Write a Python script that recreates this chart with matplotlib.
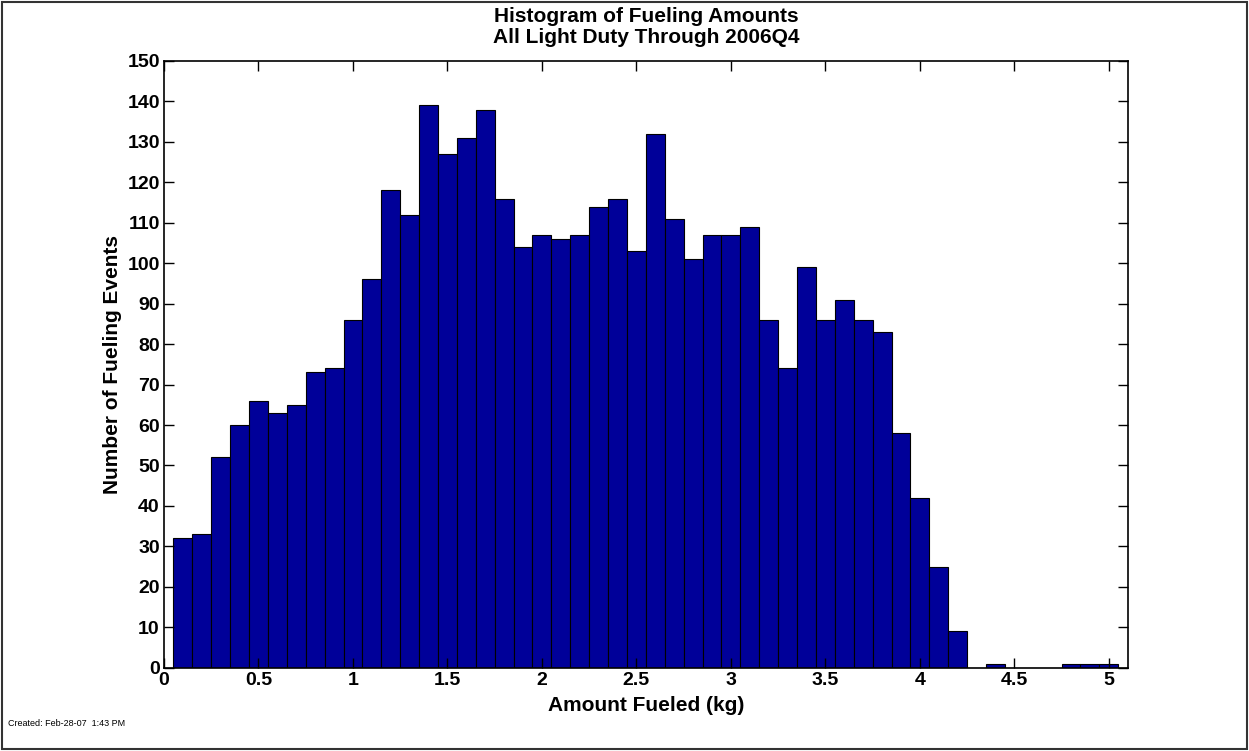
import matplotlib
matplotlib.use("Agg")
import matplotlib.pyplot as plt
from matplotlib.patches import Rectangle
import numpy as np

centros = np.round(np.arange(1, 51) * 0.1, 1)
conteos = [32, 33, 52, 60, 66, 63, 65, 73, 74, 86,
           96, 118, 112, 139, 127, 131, 138, 116, 104, 107,
           106, 107, 114, 116, 103, 132, 111, 101, 107, 107,
           109, 86, 74, 99, 86, 91, 86, 83, 58, 42,
           25, 9, 0, 1, 0, 0, 0, 1, 1, 1]

xticks = [0, 0.5, 1, 1.5, 2, 2.5, 3, 3.5, 4, 4.5, 5]
xtick_labels = ["0", "0.5", "1", "1.5", "2", "2.5", "3", "3.5", "4", "4.5", "5"]
yticks = list(range(0, 151, 10))

plt.rcParams['font.family'] = ['Liberation Sans', 'DejaVu Sans']

fig = plt.figure(figsize=(12.49, 7.51), dpi=100)
ax = fig.add_axes([0.1313, 0.1109, 0.7716, 0.8079])

ax.bar(centros, conteos, width=0.1, color="#000099", edgecolor="black", linewidth=0.8)

ax.set_xlim(0, 5.1)
ax.set_ylim(0, 150)
ax.set_xticks(xticks)
ax.set_xticklabels(xtick_labels)
ax.set_yticks(yticks)
ax.tick_params(direction="in", top=True, right=True, length=7, width=1,
               labelsize=14, pad=3)
for lab in ax.get_xticklabels() + ax.get_yticklabels():
    lab.set_fontweight("bold")
for s in ax.spines.values():
    s.set_linewidth(1.2)

ax.set_title("Histogram of Fueling Amounts\nAll Light Duty Through 2006Q4",
             fontsize=15, fontweight="bold", pad=13, linespacing=1.15)
ax.set_xlabel("Amount Fueled (kg)", fontsize=15, fontweight="bold", labelpad=5)
ax.set_ylabel("Number of Fueling Events", fontsize=15, fontweight="bold", labelpad=4)

fig.text(0.0064, 0.036, "Created: Feb-28-07  1:43 PM", fontsize=6.5, va="center", ha="left")

# marco exterior
fig.patches.append(Rectangle((0.002, 0.003), 0.996, 0.994, transform=fig.transFigure,
                             fill=False, edgecolor="#333333", linewidth=1.5))

fig.savefig("out.png", dpi=100)
